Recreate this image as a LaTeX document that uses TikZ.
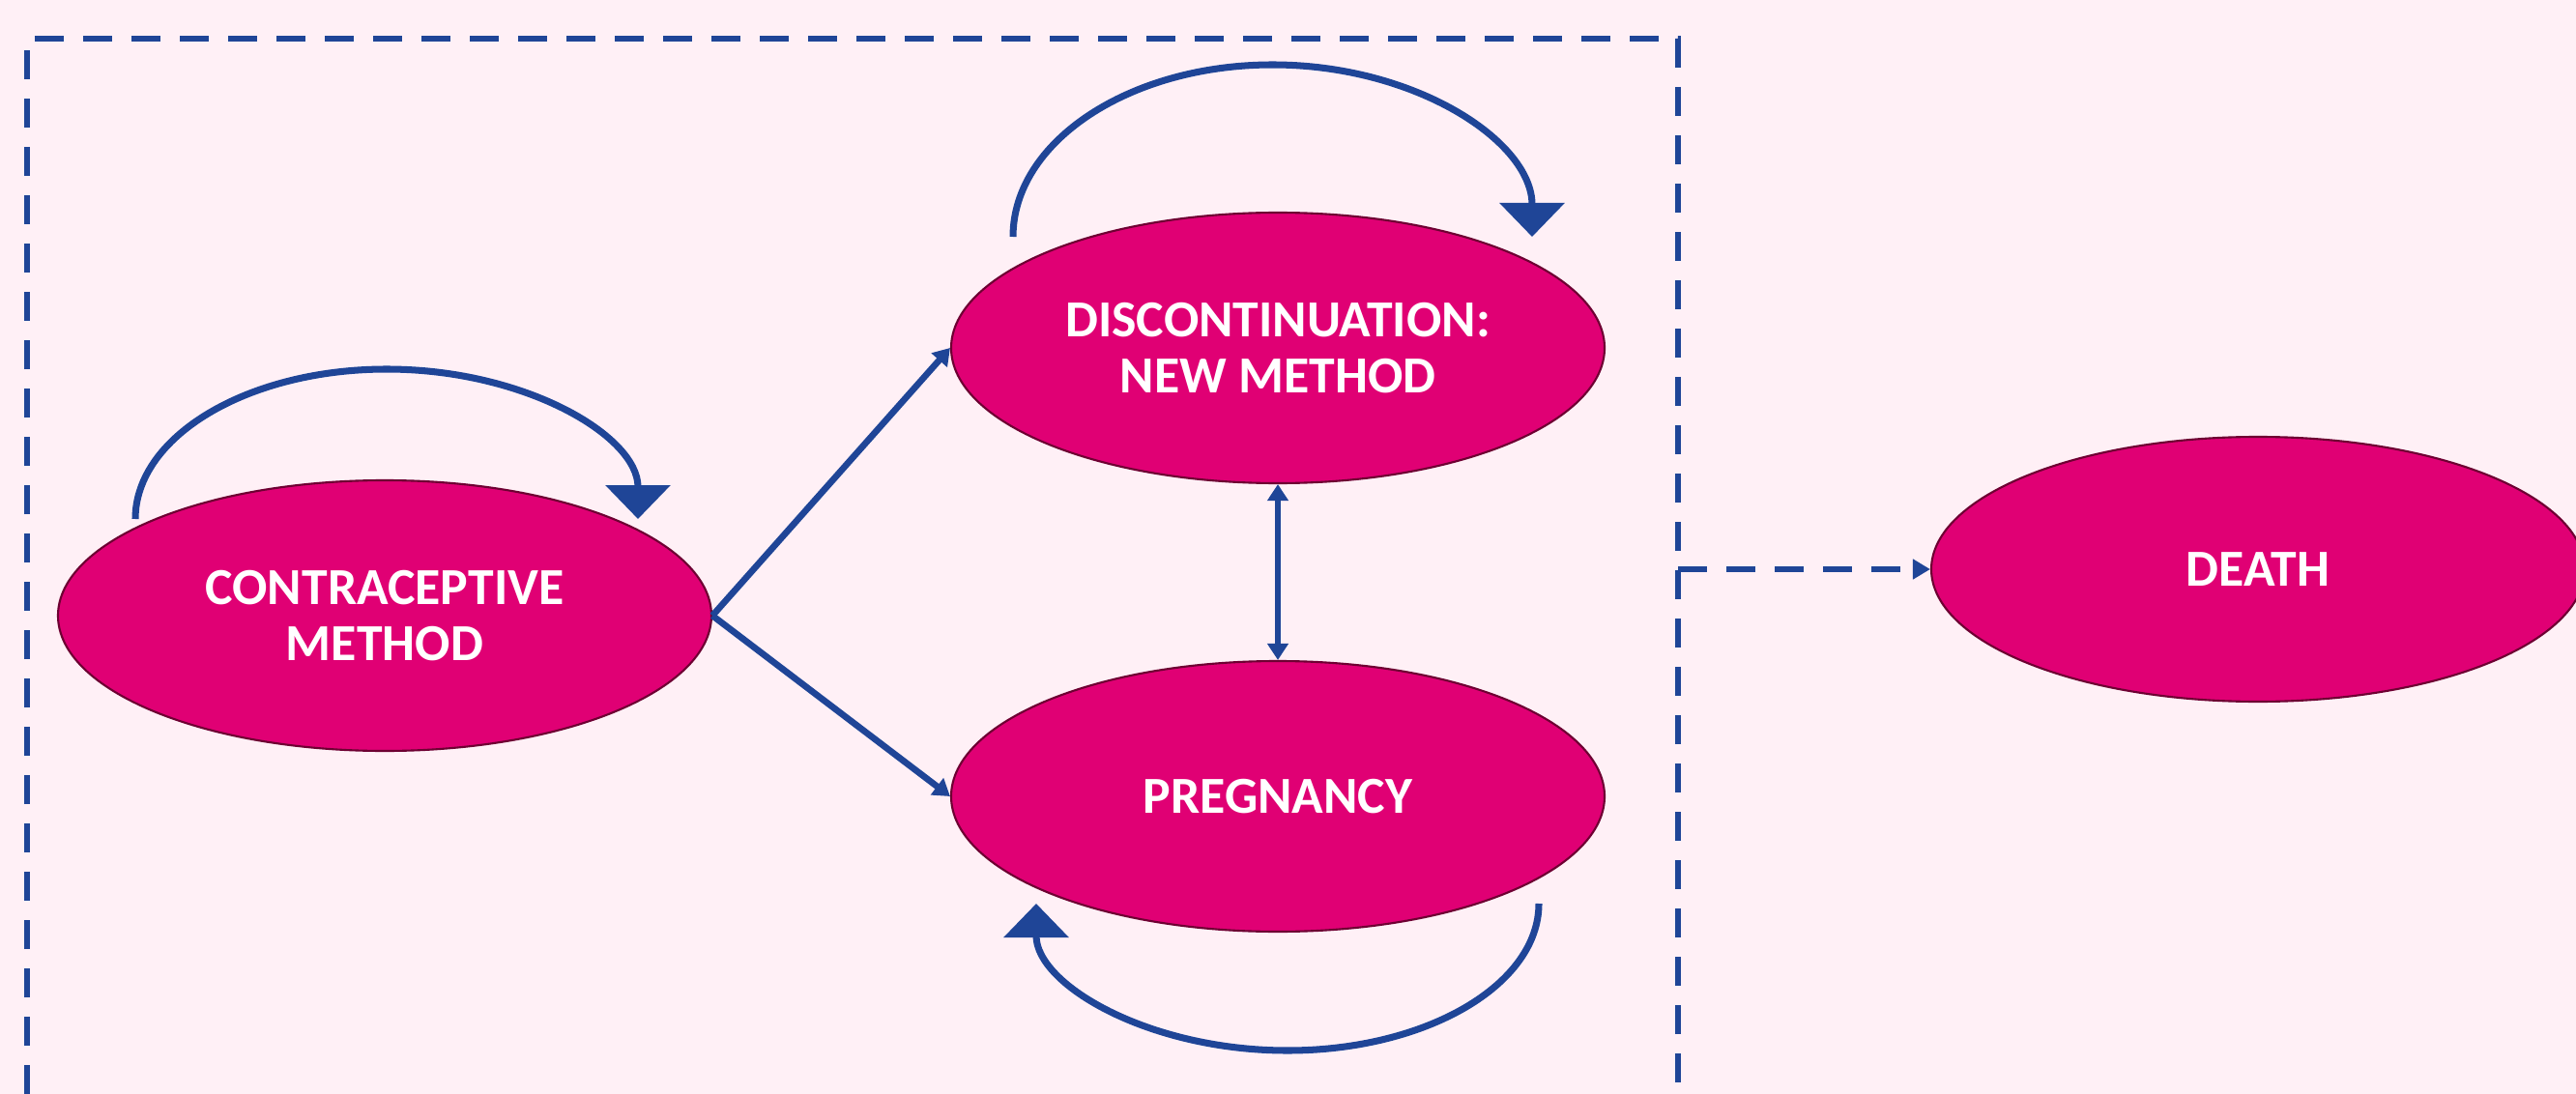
\documentclass[tikz,border=0pt]{standalone}
\usepackage{fontspec}
\setmainfont{Carlito}
\usetikzlibrary{shapes.geometric,arrows.meta,calc}
\definecolor{mybg}{RGB}{255,240,246}
\definecolor{mypink}{RGB}{224,0,116}
\definecolor{myrim}{RGB}{110,0,50}
\definecolor{myblue}{RGB}{31,69,151}

\begin{document}
\begin{tikzpicture}
	\tikzstyle{state}=[ellipse,fill=mypink,draw=myrim,line width=0.6pt,minimum width=6.76cm,minimum height=2.8cm,inner sep=0pt,text=white,align=center,font=\fontsize{15.3}{16.5}\selectfont\bfseries]
	\tikzstyle{myarrow}=[myblue,line width=1.9pt,-{Triangle[length=0.17cm,width=0.21cm]}]
	\tikzstyle{myloop}=[myblue,line width=2pt,-{Triangle[length=0.35cm,width=0.66cm]}]
	\tikzstyle{mydash}=[myblue,line width=1.7pt,dash pattern=on 0.3cm off 0.2cm]

	\useasboundingbox (0,0) rectangle (26.65,-11.32);
	\fill[mybg] (0,0) rectangle (26.65,-11.32);

%	states
	\node[state] (method) at (3.98,-6.37) {CONTRACEPTIVE\\METHOD};
	\node[state] (newmethod) at (13.22,-3.60) {DISCONTINUATION:\\NEW METHOD};
	\node[state] (pregnancy) at (13.22,-8.24) {PREGNANCY};
	\node[state,minimum height=2.74cm] (death) at (23.36,-5.89) {DEATH};

%	dashed frame, open at the bottom
	\draw[mydash] (0.28,-11.32) -- (0.28,-0.40) -- (17.36,-0.40) -- (17.36,-11.32);
	\coordinate (exit) at (17.36,-5.89);
	\draw[mydash,-{Triangle[length=0.18cm,width=0.2cm]}] (exit) -- (death.west);

%	transitions
	\draw[myarrow] (method.east) -- (newmethod.west);
	\draw[myarrow] (method.east) -- (pregnancy.west);
	\draw[myarrow,{Triangle[length=0.17cm,width=0.21cm]}-{Triangle[length=0.17cm,width=0.21cm]}] (newmethod.south) -- (pregnancy.north);

%	staying in the same state
	\draw[myloop] ($(method.center)+(-2.58,1.0)$) arc[start angle=180,end angle=0,x radius=2.6,y radius=1.55];
	\draw[myloop] ($(newmethod.center)+(-2.74,1.15)$) arc[start angle=180,end angle=0,x radius=2.685,y radius=1.78];
	\draw[myloop] ($(pregnancy.center)+(2.70,-1.11)$) arc[start angle=0,end angle=-180,x radius=2.6,y radius=1.52];
\end{tikzpicture}
\end{document}
